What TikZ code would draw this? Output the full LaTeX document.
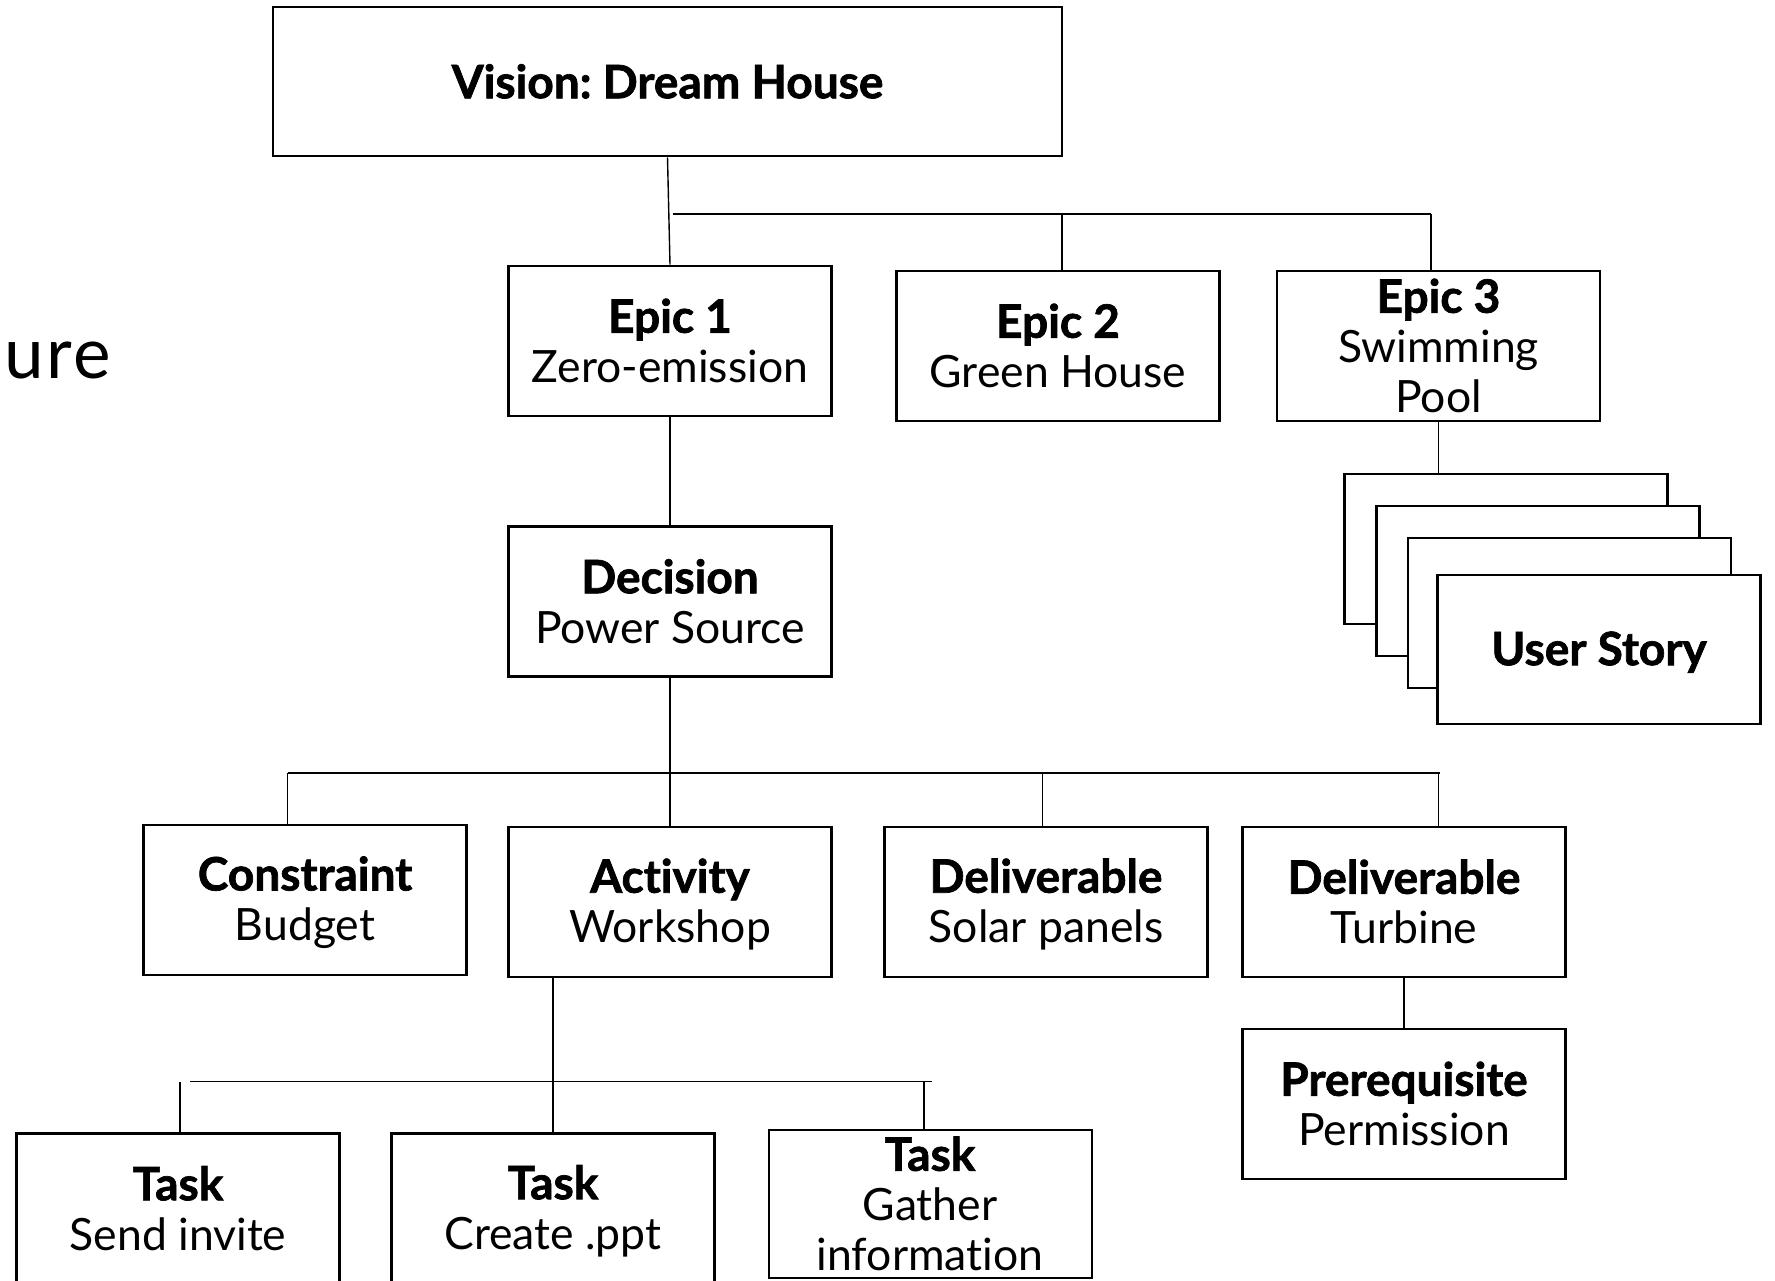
\documentclass[tikz,border=0pt]{standalone}
\usepackage{fontspec}
\setmainfont{Lato}[Ligatures=NoCommon, BoldFeatures={FakeBold=1.5}]
\newfontfamily\sidefont{Lato}[LetterSpace=4]
\frenchspacing
% every text line gets the same height and depth, so boxes centre alike
\newcommand\linestrut{\rule[-5.5pt]{0pt}{44.5pt}}
\newcommand\boxtitle[1]{{\fontsize{46}{50}\selectfont\bfseries #1}\linestrut}
\newcommand\boxsub[1]{#1\linestrut}
\begin{document}
\begin{tikzpicture}[x=1pt,y=-1pt,
  box/.style={draw, line width=2.6pt, fill=white, minimum width=323pt,
    minimum height=150pt, inner sep=0pt, align=center,
    font=\fontsize{44.5}{50}\selectfont},
  link/.style={line width=1.4pt},
]
\useasboundingbox (0,0) rectangle (1775,1280);
\clip (0,0) rectangle (1775,1280);

% side caption, cut by the left edge
\node[anchor=base west, inner sep=0pt, font=\sidefont\fontsize{71}{78}\selectfont] (side) at (4,378) {ure};

% top level
\node[box, minimum width=789pt, minimum height=149pt] (vision) at (667.5,81.5) {\boxtitle{Vision: Dream House}};

% epics
\node[box] (epic1) at (670,341) {\boxtitle{Epic 1}\\\boxsub{Zero-emission}};
\node[box] (epic2) at (1058,346) {\boxtitle{Epic 2}\\\boxsub{Green House}};
\node[box] (epic3) at (1438.5,346) {\boxtitle{Epic 3}\\\boxsub{Swimming}\\\boxsub{Pool}};

% stacked user stories
\node[box] (us1) at (1506,549) {};
\node[box] (us2) at (1538,581) {};
\node[box] (us3) at (1569.5,613) {};
\node[box, minimum height=149pt] (us4) at (1599,649.5) {\boxtitle{User Story}};

% decision level
\node[box] (decision) at (670,601.5) {\boxtitle{Decision}\\\boxsub{Power Source}};

\node[box] (constraint) at (305,900) {\boxtitle{Constraint}\\\boxsub{Budget}};
\node[box] (activity) at (670,902) {\boxtitle{Activity}\\\boxsub{Workshop}};
\node[box] (solar) at (1046,902) {\boxtitle{Deliverable}\\\boxsub{Solar panels}};
\node[box] (turbine) at (1404,902) {\boxtitle{Deliverable}\\\boxsub{Turbine}};
\node[box] (prereq) at (1404,1104) {\boxtitle{Prerequisite}\\\boxsub{Permission}};

% tasks
\node[box] (task1) at (178,1208.5) {\boxtitle{Task}\\\boxsub{Send invite}};
\node[box] (task2) at (553,1208.5) {\boxtitle{Task}\\\boxsub{Create .ppt}};
\node[box, line width=2pt, minimum height=148pt] (task3) at (930,1204) {\boxtitle{Task}\\\boxsub{Gather}\\\boxsub{information}};

% vision -> epics
\coordinate (barA) at (672.5,214);
\coordinate (barAe2) at (1062,214);
\coordinate (barAend) at (1431,214);
\draw[link] (vision.south) -- (epic1.north);
\draw[link] (barA) -- (barAend);
\draw[link] (barAe2) -- (barAe2 |- epic2.north);
\draw[link] (barAend) -- (barAend |- epic3.north);

% epic 3 -> user stories
\draw[link] (epic3.south) -- (epic3.south |- us1.north);

% epic 1 -> decision
\draw[link] (epic1.south) -- (decision.north);

% decision -> children
\coordinate (barB) at (287.5,773);
\coordinate (barBend) at (1440,773);
\coordinate (barBs) at (1042.4,773);
\coordinate (barBt) at (1438.5,773);
\draw[link] (decision.south) -- (decision.south |- barB);
\draw[link] (barB) -- (barBend);
\draw[link] (barB) -- (barB |- constraint.north);
\draw[link] (decision.south |- barB) -- (activity.north);
\draw[link] (barBs) -- (barBs |- solar.north);
\draw[link] (barBt) -- (barBt |- turbine.north);

% turbine -> prerequisite
\draw[link] (turbine.south) -- (prereq.north);

% activity -> tasks
\coordinate (barC) at (190,1081.5);
\coordinate (barCend) at (932,1081.5);
\coordinate (dropT1) at (180,1081.5);
\coordinate (dropT3) at (924,1081.5);
\draw[link] (task2.north |- activity.south) -- (task2.north);
\draw[link] (barC) -- (barCend);
\draw[link] (dropT1) -- (dropT1 |- task1.north);
\draw[link] (dropT3) -- (dropT3 |- task3.north);
\end{tikzpicture}
\end{document}
